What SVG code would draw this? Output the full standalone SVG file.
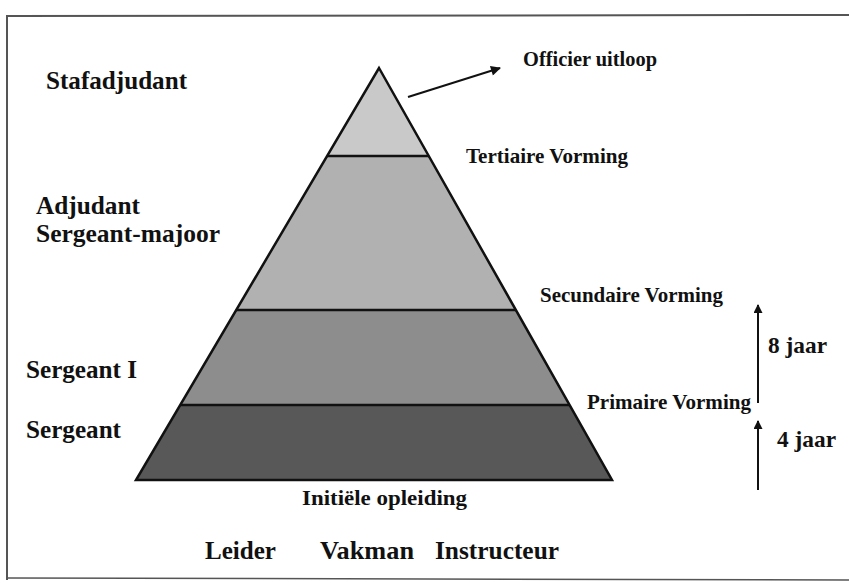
<svg xmlns="http://www.w3.org/2000/svg" width="849" height="583" viewBox="0 0 849 583">
<style>
text{font-family:"Liberation Serif","Times New Roman",serif;font-weight:bold;fill:#111}
.lbl{font-size:25px}
.side{font-size:21px}
.yr{font-size:23px}
.role{font-size:26px}
.div{stroke:#111;stroke-width:2.5}
.conn{stroke:#111;stroke-width:2;fill:none}
</style>
<defs>
<marker id="ah" viewBox="0 0 10 10" refX="9" refY="5" markerWidth="12" markerHeight="10" orient="auto" markerUnits="userSpaceOnUse">
<path d="M0,0 L10,5 L0,10 z" fill="#111"/>
</marker>
<marker id="ahv" viewBox="0 0 10 10" refX="9" refY="5" markerWidth="14" markerHeight="9" orient="auto" markerUnits="userSpaceOnUse">
<path d="M0,0 L10,5 L0,10 z" fill="#111"/>
</marker>
</defs>
<rect x="0" y="0" width="849" height="583" fill="#fff"/>
<path d="M7,580 L7,16 L849,15" fill="none" stroke="#555" stroke-width="2"/>
<path d="M7,578 L849,580" fill="none" stroke="#555" stroke-width="1.5"/>
<g id="pyramid">
<polygon id="layer-tertiair" points="379,68 429,156 327,156" fill="#c9c9c9"/>
<polygon id="layer-secundair" points="327,156 429,156 516,310 236,310" fill="#b1b1b1"/>
<polygon id="layer-primair" points="236,310 516,310 570,405 180,405" fill="#8d8d8d"/>
<polygon id="layer-initieel" points="180,405 570,405 612,480 136,480" fill="#585858"/>
<line class="div" x1="327" y1="156" x2="429" y2="156"/>
<line class="div" x1="236" y1="310" x2="516" y2="310"/>
<line class="div" x1="180" y1="405" x2="570" y2="405"/>
<polygon points="379,68 612,480 136,480" fill="none" stroke="#111" stroke-width="2.5"/>
</g>
<g id="ranks">
<text class="lbl" x="46" y="89" textLength="141" lengthAdjust="spacingAndGlyphs">Stafadjudant</text>
<text class="lbl" x="36" y="214" textLength="104" lengthAdjust="spacingAndGlyphs">Adjudant</text>
<text class="lbl" x="36" y="242" textLength="184" lengthAdjust="spacingAndGlyphs">Sergeant-majoor</text>
<text class="lbl" x="26" y="378" textLength="111" lengthAdjust="spacingAndGlyphs">Sergeant I</text>
<text class="lbl" x="26" y="438" textLength="95" lengthAdjust="spacingAndGlyphs">Sergeant</text>
</g>
<g id="levels">
<text class="side" x="523" y="66" textLength="134" lengthAdjust="spacingAndGlyphs">Officier uitloop</text>
<text class="side" x="466" y="163" textLength="162" lengthAdjust="spacingAndGlyphs">Tertiaire Vorming</text>
<text class="side" x="540" y="302" textLength="183" lengthAdjust="spacingAndGlyphs">Secundaire Vorming</text>
<text class="side" x="587" y="409" textLength="164" lengthAdjust="spacingAndGlyphs">Primaire Vorming</text>
<text class="yr" x="768" y="353" textLength="59" lengthAdjust="spacingAndGlyphs">8 jaar</text>
<text class="yr" x="777" y="447" textLength="59" lengthAdjust="spacingAndGlyphs">4 jaar</text>
<text class="side" x="302" y="505" textLength="165" lengthAdjust="spacingAndGlyphs">Initiële opleiding</text>
</g>
<g id="roles">
<text class="role" x="205" y="559" textLength="71" lengthAdjust="spacingAndGlyphs">Leider</text>
<text class="role" x="320" y="559" textLength="94" lengthAdjust="spacingAndGlyphs">Vakman</text>
<text class="role" x="435" y="559" textLength="124" lengthAdjust="spacingAndGlyphs">Instructeur</text>
</g>
<g id="connectors">
<line class="conn" x1="408" y1="97" x2="500" y2="68" marker-end="url(#ah)"/>
<line class="conn" x1="758" y1="403" x2="758" y2="305" marker-end="url(#ahv)"/>
<line class="conn" x1="758" y1="490" x2="758" y2="421" marker-end="url(#ahv)"/>
</g>
</svg>
